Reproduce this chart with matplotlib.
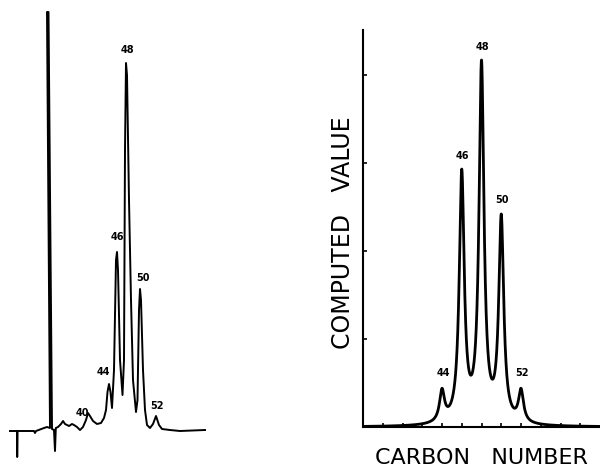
import numpy as np
import matplotlib.pyplot as plt

# left: recorder trace (retention position, signal)
trace_x = [10, 17, 17.2, 17.6, 30, 34, 35, 36, 44, 47, 50, 47, 48.5, 52, 54, 55, 55.8,
           58, 61, 63, 65, 69, 72, 74, 77, 80, 83, 86, 88, 90, 93, 97, 101, 104, 106,
           107.5, 109, 110.5, 112, 114, 116, 117, 118, 120, 122.5, 124, 125, 126,
           127, 129, 131, 133, 136, 137.5, 139, 140, 141, 143, 145, 147, 150, 153,
           156, 159, 162, 170, 180, 205]
trace_y = [-1, -1, -27, -1, -1, -1, -3, -1, 2, 3, 2, 418, 418, 1, 0, -21, 2,
           3, 6, 9, 6, 4, 6, 5, 3, 0, 3, 10, 17, 14, 9, 6, 7, 12, 20,
           38, 46, 38, 22, 60, 170, 178, 160, 70, 35, 70, 280, 367,
           355, 230, 130, 50, 18, 30, 120, 141, 130, 60, 20, 5, 2, 6,
           14, 5, 1, 0, -1, 0]

left_labels = ["40", "44", "46", "48", "50", "52"]
left_label_x = [82, 103, 117, 127, 143, 157]
left_label_y = [17, 58, 193, 380, 152, 24]

# right: computed profile
carbon = [44, 46, 48, 50, 52]
computed = [0.44, 2.93, 4.17, 2.42, 0.44]
right_label_y = [0.61, 3.08, 4.32, 2.58, 0.61]
right_labels = ["44", "46", "48", "50", "52"]

fig = plt.figure(figsize=(6.0, 4.67), dpi=100)

# left chromatogram
ax1 = fig.add_axes([0.0, 0.0, 210 / 600, 1.0])
ax1.plot(trace_x, trace_y, color='black', lw=1.4, solid_joinstyle='round')
ax1.set_xlim(0, 210)
ax1.set_ylim(-37, 430)
ax1.axis('off')
for lab, lx, ly in zip(left_labels, left_label_x, left_label_y):
    ax1.text(lx, ly, lab, ha='center', va='center', fontsize=7, fontweight='bold')

# right: computed curve, lorentzian peaks passing through the read heights
ax2 = fig.add_axes([363 / 600, 40 / 467, 237 / 600, 397 / 467])
w = 0.3
c = np.array(carbon, dtype=float)
M = 1.0 / (1.0 + ((c[:, None] - c[None, :]) / w) ** 2)
amp = np.linalg.solve(M, np.array(computed))
xs = np.linspace(36, 60, 2000)
ys = (amp[None, :] / (1.0 + ((xs[:, None] - c[None, :]) / w) ** 2)).sum(axis=1)
ax2.plot(xs, ys, color='black', lw=2.0)
for lab, cx, ly in zip(right_labels, carbon, right_label_y):
    ax2.text(cx + 0.1, ly, lab, ha='center', va='center', fontsize=7, fontweight='bold')

ax2.set_xlim(36, 60)
ax2.set_ylim(0, 4.51)
ax2.set_xticks(np.arange(38, 60, 2))
ax2.set_yticks([1, 2, 3, 4])
ax2.tick_params(direction='in', length=3, width=1.2, labelbottom=False, labelleft=False)
for side in ['top', 'right']:
    ax2.spines[side].set_visible(False)
for side in ['left', 'bottom']:
    ax2.spines[side].set_linewidth(1.5)

fig.text(343 / 600, 1 - 233 / 467, "COMPUTED   VALUE", rotation=90, ha='center', va='center',
         fontsize=17)
fig.text(481 / 600, 1 - 458 / 467, "CARBON   NUMBER", ha='center', va='center', fontsize=16)

fig.savefig('out.png', dpi=100)
